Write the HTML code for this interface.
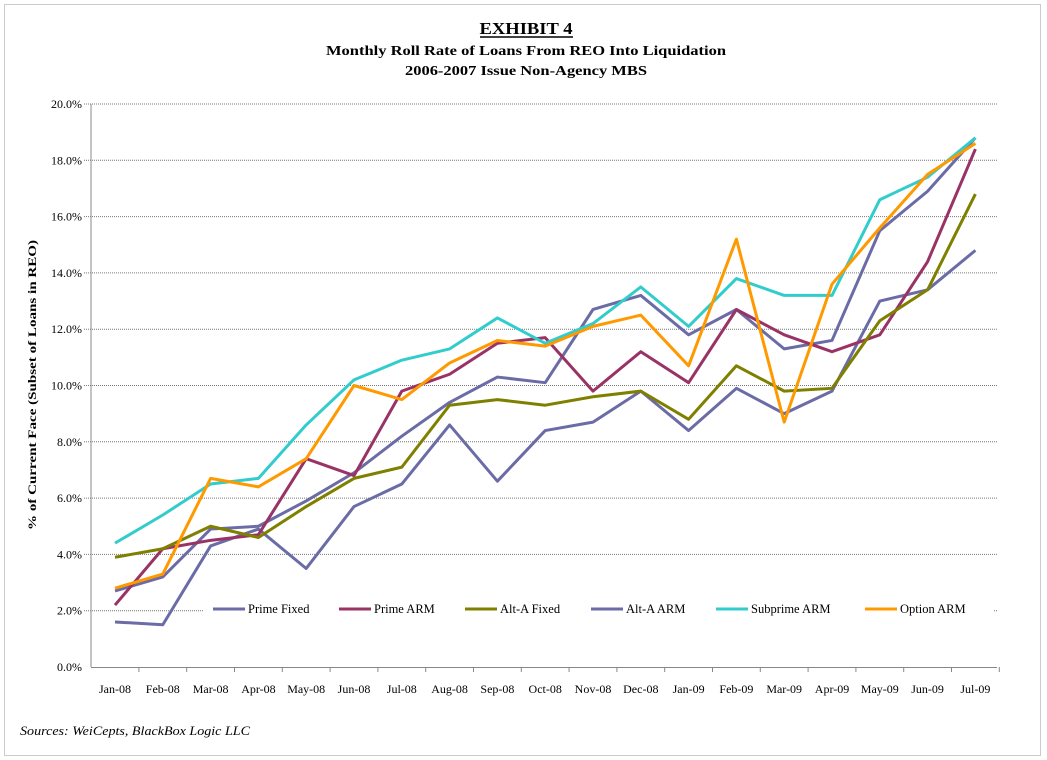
<!DOCTYPE html>
<html><head><meta charset="utf-8"><style>
html,body{margin:0;padding:0;background:#fff;}
svg{display:block;font-family:"Liberation Serif",serif;}
</style></head><body>
<svg width="1047" height="760" viewBox="0 0 1047 760" xmlns="http://www.w3.org/2000/svg">
<rect x="4.5" y="4.5" width="1036" height="751" fill="none" stroke="#999" stroke-dasharray="1,1"/>
<text x="526" y="34" text-anchor="middle" font-weight="bold" font-size="17" textLength="93" lengthAdjust="spacingAndGlyphs">EXHIBIT 4</text>
<line x1="480" y1="37" x2="573" y2="37" stroke="#000" stroke-width="1.5"/>
<text x="526" y="55" text-anchor="middle" font-weight="bold" font-size="14" textLength="400" lengthAdjust="spacingAndGlyphs">Monthly Roll Rate of Loans From REO Into Liquidation</text>
<text x="526" y="75" text-anchor="middle" font-weight="bold" font-size="14" textLength="242" lengthAdjust="spacingAndGlyphs">2006-2007 Issue Non-Agency MBS</text>
<g id="grid" stroke="#777" stroke-width="1" stroke-dasharray="1,1"></g>
<g id="ylab" font-size="12" text-anchor="end"></g>
<g id="xlab" font-size="12" text-anchor="middle"></g>
<line x1="91" y1="104" x2="91" y2="667" stroke="#888"/>
<line x1="91" y1="667.5" x2="997" y2="667.5" stroke="#888"/>
<g id="ticks" stroke="#888"></g>
<text transform="translate(36,385) rotate(-90)" text-anchor="middle" font-size="12" font-weight="bold" textLength="290" lengthAdjust="spacingAndGlyphs">% of Current Face (Subset of Loans in REO)</text>
<g id="series" fill="none" stroke-width="3" stroke-linejoin="round"></g>
<rect x="203" y="596" width="790" height="27" fill="#fff"/>
<g font-size="12.5">
<line x1="213" y1="609" x2="245" y2="609" stroke="#6B6BA6" stroke-width="3"/><text x="248" y="613">Prime Fixed</text>
<line x1="339" y1="609" x2="371" y2="609" stroke="#993366" stroke-width="3"/><text x="374" y="613">Prime ARM</text>
<line x1="465" y1="609" x2="497" y2="609" stroke="#7F7F00" stroke-width="3"/><text x="500" y="613">Alt-A Fixed</text>
<line x1="591" y1="609" x2="623" y2="609" stroke="#6B6BA6" stroke-width="3"/><text x="626" y="613">Alt-A ARM</text>
<line x1="716" y1="609" x2="748" y2="609" stroke="#33CCCC" stroke-width="3"/><text x="751" y="613">Subprime ARM</text>
<line x1="865" y1="609" x2="897" y2="609" stroke="#FF9900" stroke-width="3"/><text x="900" y="613">Option ARM</text>
</g>
<text x="20" y="735" font-size="13" font-style="italic" textLength="230" lengthAdjust="spacingAndGlyphs">Sources:  WeiCepts, BlackBox Logic LLC</text>
<script>
var ns="http://www.w3.org/2000/svg";
function Y(v){return 667-v*28.15;}
function X(i){return 115+i*47.8;}
function el(t,a,p){var e=document.createElementNS(ns,t);for(var k in a)e.setAttribute(k,a[k]);document.getElementById(p).appendChild(e);return e;}
for(var g=1;g<=10;g++){el('line',{x1:84,x2:997,y1:Y(g*2),y2:Y(g*2)},'grid');}
for(var g=0;g<=10;g++){var t=el('text',{x:82,y:Y(g*2)+4},'ylab');t.textContent=(g*2).toFixed(1)+'%';}
var m=['Jan-08','Feb-08','Mar-08','Apr-08','May-08','Jun-08','Jul-08','Aug-08','Sep-08','Oct-08','Nov-08','Dec-08','Jan-09','Feb-09','Mar-09','Apr-09','May-09','Jun-09','Jul-09'];
m.forEach(function(s,i){var t=el('text',{x:X(i),y:693},'xlab');t.textContent=s;el('line',{x1:X(i)+23.9,x2:X(i)+23.9,y1:667,y2:672},'ticks');});
var S=[
['#6B6BA6',[1.6,1.5,4.3,4.9,3.5,5.7,6.5,8.6,6.6,8.4,8.7,9.8,8.4,9.9,9.0,9.8,13.0,13.4,14.8]],
['#6B6BA6',[2.7,3.2,4.9,5.0,5.9,6.9,8.2,9.4,10.3,10.1,12.7,13.2,11.8,12.7,11.3,11.6,15.5,16.9,18.8]],
['#993366',[2.2,4.2,4.5,4.7,7.4,6.8,9.8,10.4,11.5,11.7,9.8,11.2,10.1,12.7,11.8,11.2,11.8,14.4,18.4]],
['#7F7F00',[3.9,4.2,5.0,4.6,5.7,6.7,7.1,9.3,9.5,9.3,9.6,9.8,8.8,10.7,9.8,9.9,12.3,13.4,16.8]],
['#33CCCC',[4.4,5.4,6.5,6.7,8.6,10.2,10.9,11.3,12.4,11.5,12.2,13.5,12.1,13.8,13.2,13.2,16.6,17.4,18.8]],
['#FF9900',[2.8,3.3,6.7,6.4,7.4,10.0,9.5,10.8,11.6,11.4,12.1,12.5,10.7,15.2,8.7,13.6,15.6,17.5,18.6]]];
S.forEach(function(s){el('polyline',{stroke:s[0],points:s[1].map(function(v,i){return X(i)+','+Y(v);}).join(' ')},'series');});
</script>
</svg>
</body></html>
